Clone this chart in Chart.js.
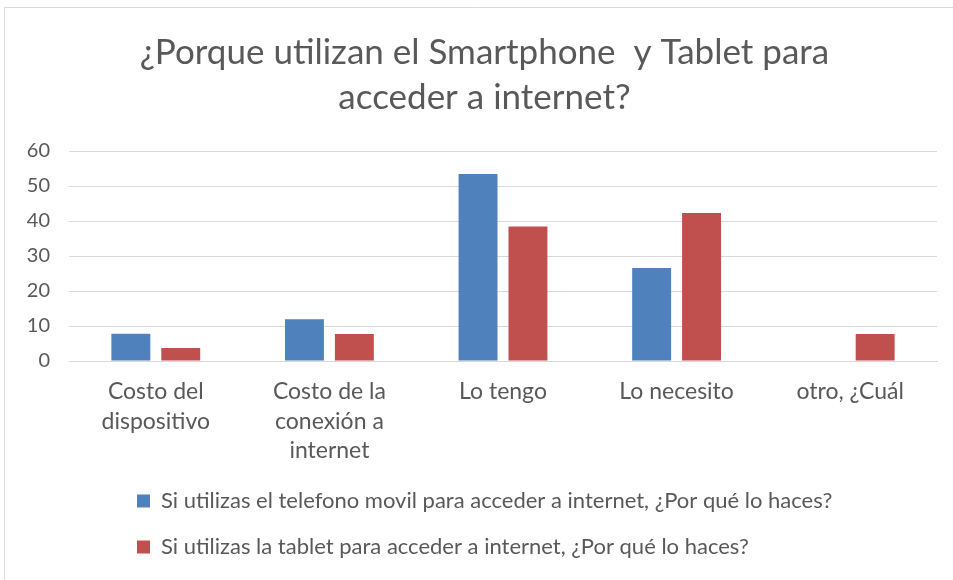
<!DOCTYPE html>
<html>
<head>
<meta charset="utf-8">
<script src="https://cdn.jsdelivr.net/npm/chart.js@4.4.0/dist/chart.umd.min.js"></script>
<style>
  html, body { margin: 0; padding: 0; background: #ffffff; }
  #wrap { position: relative; width: 953px; height: 580px; }
</style>
</head>
<body>
<div id="wrap"><canvas id="c" width="953" height="580"></canvas></div>
<script>
const titleLines = ["¿Porque utilizan el Smartphone  y Tablet para", "acceder a internet?"];
const categories = [
  ["Costo del", "dispositivo"],
  ["Costo de la", "conexión a", "internet"],
  "Lo tengo",
  "Lo necesito",
  "otro, ¿Cuál"
];
const seriesNames = [
  "Si utilizas el telefono movil para acceder a internet, ¿Por qué lo haces?",
  "Si utilizas la tablet para acceder a internet, ¿Por qué lo haces?"
];
const movilValues = [7.8, 11.9, 53.4, 26.6, 0];
const tabletValues = [3.7, 7.7, 38.4, 42.3, 7.7];
const yTicks = [0, 10, 20, 30, 40, 50, 60];

const FONT = "Lato, 'Open Sans', sans-serif";
const TXT = "#595959";

const borderPlugin = {
  id: "frame",
  beforeDraw(chart) {
    const ctx = chart.ctx;
    ctx.save();
    ctx.fillStyle = "#ffffff";
    ctx.fillRect(0, 0, chart.width, chart.height);
    ctx.strokeStyle = "#D9D9D9";
    ctx.lineWidth = 1;
    ctx.beginPath();
    ctx.moveTo(4.5, chart.height);
    ctx.lineTo(4.5, 7.5);
    ctx.lineTo(chart.width, 7.5);
    ctx.stroke();
    ctx.restore();
  }
};

const blockShift = {
  id: "blockShift",
  afterLayout(chart) {
    const lg = chart.legend;
    if (lg) { lg.left += 103; lg.right += 103; }
    const tb = chart.titleBlock;
    if (tb) { tb.left += 11; tb.right += 11; }
  }
};

new Chart(document.getElementById("c"), {
  type: "bar",
  data: {
    labels: categories,
    datasets: [
      { label: seriesNames[0], data: movilValues, backgroundColor: "#4F81BD", borderWidth: 0 },
      { label: seriesNames[1], data: tabletValues, backgroundColor: "#C0504D", borderWidth: 0 }
    ]
  },
  options: {
    responsive: false,
    animation: false,
    devicePixelRatio: 1,
    categoryPercentage: 0.575,
    barPercentage: 0.78,
    layout: { padding: { left: 10, right: 16, top: 8, bottom: 12 } },
    plugins: {
      title: {
        display: true,
        text: titleLines,
        color: TXT,
        font: { family: FONT, size: 35, weight: "normal", lineHeight: 1.286 },
        padding: { top: 22, bottom: 31 }
      },
      legend: {
        display: true,
        position: "bottom",
        align: "start",
        labels: {
          color: TXT,
          boxWidth: 13,
          boxHeight: 13,
          padding: 24,
          font: { family: FONT, size: 22 }
        }
      },
      tooltip: { enabled: false }
    },
    scales: {
      x: {
        grid: { display: false, drawTicks: false },
        border: { display: true, color: "#D9D9D9" },
        afterFit(scale) { scale.height = 105; },
        ticks: {
          color: TXT,
          maxRotation: 0,
          autoSkip: false,
          padding: 16,
          font: { family: FONT, size: 23, lineHeight: 1.28 }
        }
      },
      y: {
        min: 0,
        max: 60,
        afterBuildTicks(scale) { scale.ticks = yTicks.map(v => ({ value: v })); },
        afterFit(scale) { scale.width = 59; },
        grid: { color: "#D9D9D9", drawTicks: false },
        border: { display: false },
        ticks: {
          color: TXT,
          padding: 19,
          font: { family: FONT, size: 20 }
        }
      }
    }
  },
  plugins: [borderPlugin, blockShift]
});
</script>
</body>
</html>
